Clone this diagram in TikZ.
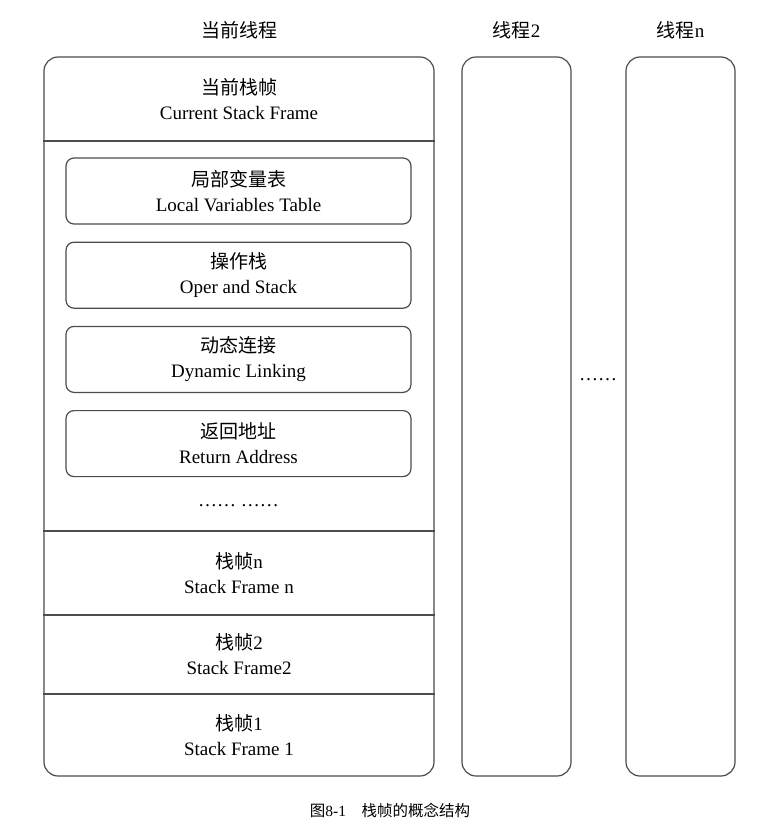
\documentclass[tikz,border=0pt]{standalone}
\usepackage{fontspec}
\setmainfont{Liberation Serif}
\newfontfamily\cjk{Noto Sans CJK SC}
\usetikzlibrary{positioning}

\begin{document}
\begin{tikzpicture}[x=1pt,y=-1pt,
		line/.style={draw=black!70,line width=1.2pt},
		frame/.style={line,rounded corners=14pt,inner sep=0pt,minimum height=719pt},
		slot/.style={line,rounded corners=8pt,inner sep=0pt,minimum width=345pt,minimum height=66pt,align=center,font=\fontsize{19}{25}\selectfont},
		lbl/.style={align=center,font=\fontsize{19}{25}\selectfont}
	]
	\useasboundingbox (0,0) rectangle (774,830);
	% threads
	\node[frame,minimum width=390pt] (cur) at (239,416.5) {};
	\node[frame,minimum width=109pt] (t2) at (516.5,416.5) {};
	\node[frame,minimum width=109pt] (tn) at (680.5,416.5) {};
	\node[lbl] (curtitle) at (239,30) {\cjk 当前线程};
	\node[lbl] (t2title) at (516.5,30) {{\cjk 线程}2};
	\node[lbl] (tntitle) at (680.5,30) {{\cjk 线程}n};
	\node[lbl,anchor=base] (gap) at (598,380) {……};
	% frames
	\draw[line] (cur.west |- 0,141) -- (cur.east |- 0,141);
	\draw[line] (cur.west |- 0,531) -- (cur.east |- 0,531);
	\draw[line] (cur.west |- 0,615) -- (cur.east |- 0,615);
	\draw[line] (cur.west |- 0,694) -- (cur.east |- 0,694);
	\node[lbl] (top) at (239,99) {{\cjk 当前栈帧}\\Current Stack Frame};
	\node[slot] (lvt) at (238.5,191) {{\cjk 局部变量表}\\Local Variables Table};
	\node[slot,below=17pt of lvt] (ops) {{\cjk 操作栈}\\Oper and Stack};
	\node[slot,below=17pt of ops] (dyn) {{\cjk 动态连接}\\Dynamic Linking};
	\node[slot,below=17pt of dyn] (ret) {{\cjk 返回地址}\\Return Address};
	\node[lbl,anchor=base] (more) at (238.5,506) {…… ……};
	\node[lbl] (sfn) at (239,573) {{\cjk 栈帧}n\\Stack Frame n};
	\node[lbl] (sf2) at (239,654.5) {{\cjk 栈帧}2\\Stack Frame2};
	\node[lbl] (sf1) at (239,735) {{\cjk 栈帧}1\\Stack Frame 1};
	% caption
	\node[font=\fontsize{15.5}{18}\selectfont] (cap) at (390,810) {{\cjk 图}8-1\quad{\cjk 栈帧的概念结构}};
\end{tikzpicture}
\end{document}
